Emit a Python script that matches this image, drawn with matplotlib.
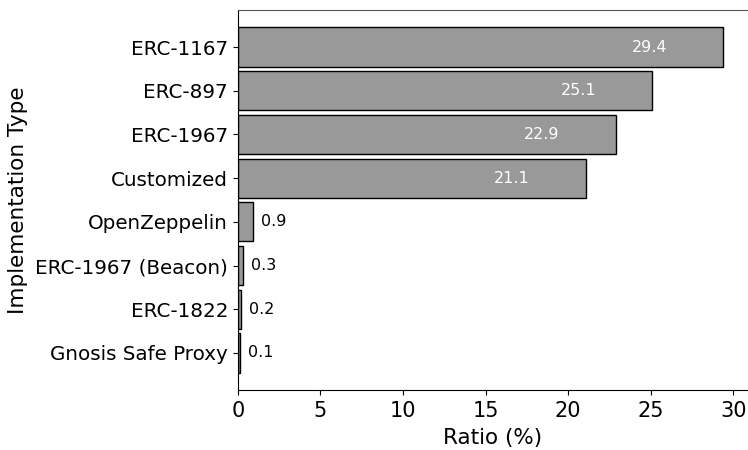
import matplotlib.pyplot as plt

# Типы реализаций прокси и их доля (%)
types = ['ERC-1167', 'ERC-897', 'ERC-1967', 'Customized', 'OpenZeppelin',
         'ERC-1967 (Beacon)', 'ERC-1822', 'Gnosis Safe Proxy']
ratios = [29.4, 25.1, 22.9, 21.1, 0.9, 0.3, 0.2, 0.1]

fig = plt.figure(figsize=(7.48, 4.5), dpi=100)
ax = fig.add_axes([0.318, 0.1333, 0.682, 0.8445])

pos = list(range(len(types)))
ax.barh(pos, ratios, height=0.9, color='#999999', edgecolor='black', linewidth=1)
ax.set_yticks(pos)
ax.set_yticklabels(types, fontsize=14.3)
ax.set_ylim(len(types) - 1 + 0.85, -0.85)
ax.set_xlim(0, 30.9)
ax.set_xticks([0, 5, 10, 15, 20, 25, 30])
ax.tick_params(axis='x', labelsize=15, pad=4.5)
ax.set_xlabel('Ratio (%)', fontsize=15.5, labelpad=5)
ax.set_ylabel('Implementation Type', fontsize=15.5, labelpad=5)
ax.spines['right'].set_visible(False)
ax.spines['top'].set_color('#555555')

# Подписи значений: крупные внутри столбца, мелкие справа
for p, v in zip(pos, ratios):
    if v > 5:
        ax.text(v - 3.4, p, f'{v}', ha='right', va='center', color='white', fontsize=11.5)
    else:
        ax.text(v + 0.5, p, f'{v}', ha='left', va='center', color='black', fontsize=11.5)

fig.savefig('out.png', dpi=100)
